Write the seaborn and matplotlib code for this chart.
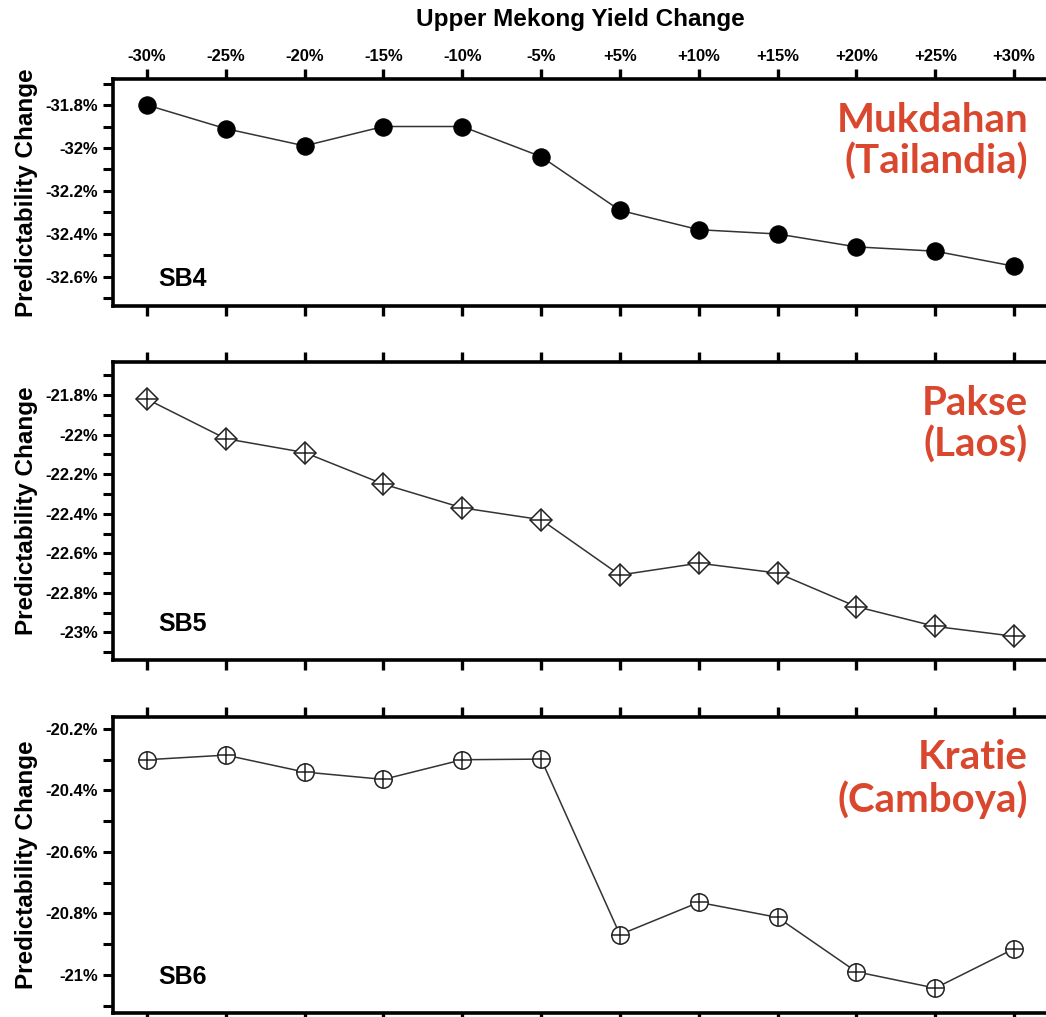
import numpy as np
import pandas as pd
import matplotlib
matplotlib.use("Agg")
import matplotlib.pyplot as plt
from matplotlib.ticker import MultipleLocator, FuncFormatter
import seaborn as sns

# Upper Mekong yield scenarios
scenarios = ["-30%", "-25%", "-20%", "-15%", "-10%", "-5%",
             "+5%", "+10%", "+15%", "+20%", "+25%", "+30%"]

# Predictability change (%) at each station
sb4_mukdahan = [-31.80, -31.91, -31.99, -31.90, -31.90, -32.04,
                -32.29, -32.38, -32.40, -32.46, -32.48, -32.55]
sb5_pakse = [-21.82, -22.02, -22.09, -22.25, -22.37, -22.43,
             -22.71, -22.65, -22.70, -22.87, -22.97, -23.02]
sb6_kratie = [-20.30, -20.285, -20.34, -20.364, -20.30, -20.298,
              -20.869, -20.764, -20.813, -20.99, -21.043, -20.915]

station_codes = ["SB4", "SB5", "SB6"]
station_names = ["Mukdahan\n(Tailandia)", "Pakse\n(Laos)", "Kratie\n(Camboya)"]

sns.set_theme(style="white")
plt.rcParams["font.family"] = ["Liberation Sans", "DejaVu Sans"]
plt.rcParams["text.color"] = "black"
plt.rcParams["axes.labelcolor"] = "black"
plt.rcParams["xtick.color"] = "black"
plt.rcParams["ytick.color"] = "black"

W, H = 1046, 1017
fig = plt.figure(figsize=(W / 100, H / 100), dpi=100)

# panel extents in pixels: (top, bottom)
panels_px = [(79, 306), (362, 660), (717, 1013)]
left_px, right_px = 113, 1048
ylims = [(-32.735, -31.679), (-23.14, -21.632), (-21.124, -20.161)]
series = [sb4_mukdahan, sb5_pakse, sb6_kratie]
red = "#d9482e"

for i, ((top, bot), ylim, vals) in enumerate(zip(panels_px, ylims, series)):
    ax = fig.add_axes([left_px / W, 1 - bot / H, (right_px - left_px) / W, (bot - top) / H])
    df = pd.DataFrame({"scenario": scenarios, "value": vals})

    if i == 0:
        sns.lineplot(data=df, x="scenario", y="value", sort=False, ax=ax,
                     color="#333333", linewidth=1.1, marker="o", markersize=12.5,
                     markerfacecolor="black", markeredgecolor="black")
    elif i == 1:
        sns.lineplot(data=df, x="scenario", y="value", sort=False, ax=ax,
                     color="#333333", linewidth=1.1, marker="D", markersize=11,
                     markerfacecolor="white", markeredgecolor="#222222",
                     markeredgewidth=1.1)
        sns.scatterplot(data=df, x="scenario", y="value", ax=ax, marker="+",
                        s=15 ** 2, color="#222222", linewidth=1.1, zorder=5)
    else:
        sns.lineplot(data=df, x="scenario", y="value", sort=False, ax=ax,
                     color="#333333", linewidth=1.1, marker="o", markersize=12.5,
                     markerfacecolor="white", markeredgecolor="#222222",
                     markeredgewidth=1.1)
        sns.scatterplot(data=df, x="scenario", y="value", ax=ax, marker="+",
                        s=12.5 ** 2, color="#222222", linewidth=1.1, zorder=5)

    ax.set_xlim(-0.43, len(scenarios) - 1 + 0.43)
    ax.set_ylim(*ylim)
    ax.set_xticks(range(len(scenarios)))
    ax.set_xticklabels(scenarios, fontsize=12, fontweight="bold")
    ax.yaxis.set_major_locator(MultipleLocator(0.2))
    ax.yaxis.set_minor_locator(MultipleLocator(0.1))
    ax.yaxis.set_major_formatter(FuncFormatter(lambda v, p: f"{round(v, 2):g}%"))
    for lab in ax.get_yticklabels():
        lab.set_fontweight("bold")
        lab.set_fontsize(12)

    ax.tick_params(axis="x", which="both", top=True, bottom=True, direction="out",
                   length=7, width=2.4, color="black", labeltop=(i == 0),
                   labelbottom=False, pad=4)
    ax.tick_params(axis="y", which="both", left=True, direction="out",
                   length=7, width=2.2, color="black", pad=4, labelsize=12)
    for side in ["top", "bottom", "left"]:
        ax.spines[side].set_linewidth(2.6)
        ax.spines[side].set_color("black")
    ax.spines["right"].set_visible(False)

    ax.set_xlabel("")
    ax.set_ylabel("Predictability Change", fontsize=17.5, fontweight="bold")
    ax.yaxis.set_label_coords(-0.08, 0.5)

    ax.text(0.048, 0.12, station_codes[i], transform=ax.transAxes, fontsize=18,
            fontweight="bold", ha="left", va="center")

    fig.text(1028 / W, 1 - (top + 62) / H, station_names[i], ha="right", va="center",
             multialignment="right", color=red, fontsize=29, fontweight="bold",
             family=["Lato", "DejaVu Sans"], linespacing=1.12)

    if i == 0:
        ax.set_title("Upper Mekong Yield Change", fontsize=17.5, fontweight="bold", pad=38)

fig.savefig("out.png", dpi=100)
